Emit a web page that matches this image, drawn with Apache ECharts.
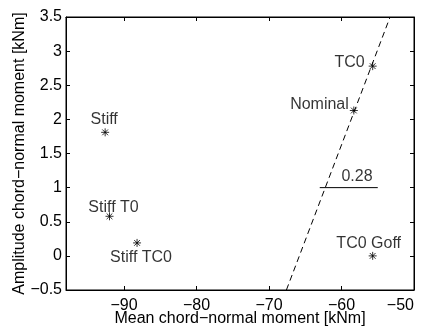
<!DOCTYPE html>
<html>
<head>
<meta charset="utf-8">
<script src="https://cdn.jsdelivr.net/npm/echarts@6/dist/echarts.min.js"></script>
<style>
    html, body { margin: 0; padding: 0; background: #fff; }
    #chart { width: 422px; height: 327px; }
</style>
</head>
<body>
<div id="chart"></div>
<script>
// data
const caseNames = ['Stiff', 'Stiff T0', 'Stiff TC0', 'TC0', 'Nominal', 'TC0 Goff'];
const meanMoment = [-92.6, -92.0, -88.2, -55.7, -58.3, -55.7];
const amplitudeMoment = [1.81, 0.58, 0.19, 2.78, 2.13, 0.0];

// dashed trend line (slope 0.28) and the slope marker
const trendX = [-67.6, -53.3];
const trendY = [-0.5, 3.5];
const slopeBarX = [-63, -55];
const slopeBarY = [1, 1];
const slopeText = '0.28';

const xTicks = [-90, -80, -70, -60, -50];

// label placement per case: [align, dx, dy]
const labelPlacement = [
    ['center', -1, -13],
    ['center', 4, -9],
    ['center', 4, 15],
    ['right', -8, -4],
    ['right', -5, -6],
    ['center', -4, -12]
];

const FONT = 'Liberation Sans, Arial, Helvetica, sans-serif';
const FS = 16;
const minus = (v) => String(v).replace('-', '\u2212');

const asterisk = 'path://M0,-5L0,5M-5,0L5,0M-3.6,-3.6L3.6,3.6M-3.6,3.6L3.6,-3.6';

const points = caseNames.map((name, i) => ({
    value: [meanMoment[i], amplitudeMoment[i]],
    name: name,
    label: {
        align: labelPlacement[i][0],
        offset: [labelPlacement[i][1], labelPlacement[i][2]]
    }
}));

const tickStyle = {show: true, inside: true, length: 4, lineStyle: {color: '#000', width: 1}};
const lineStyle = {show: true, onZero: false, lineStyle: {color: '#000'}};

const options = {
    animation: false,
    backgroundColor: '#fff',
    textStyle: {fontFamily: FONT},
    grid: {
        left: 66, right: 8, top: 17, bottom: 37,
        outerBoundsMode: 'none',
        containLabel: false,
        show: true, borderColor: '#000', borderWidth: 1, backgroundColor: '#fff'
    },
    xAxis: [{
        type: 'value',
        min: -98,
        max: -50,
        name: 'Mean chord\u2212normal moment [kNm]',
        nameLocation: 'middle',
        nameGap: 21,
        nameMoveOverlap: false,
        nameTextStyle: {color: '#000', fontSize: FS, fontFamily: FONT},
        axisLine: lineStyle,
        axisTick: Object.assign({customValues: xTicks}, tickStyle),
        axisLabel: {
            customValues: xTicks,
            alignMaxLabel: 'right',
            color: '#000', fontSize: FS, fontFamily: FONT, margin: 8,
            formatter: minus
        },
        splitLine: {show: false}
    }, {
        type: 'value',
        position: 'top',
        min: -98,
        max: -50,
        axisLine: lineStyle,
        axisTick: Object.assign({customValues: xTicks}, tickStyle),
        axisLabel: {show: false},
        splitLine: {show: false}
    }],
    yAxis: [{
        type: 'value',
        min: -0.5,
        max: 3.5,
        interval: 0.5,
        name: 'Amplitude chord\u2212normal moment [kNm]',
        nameLocation: 'middle',
        nameGap: 38,
        nameMoveOverlap: false,
        nameTextStyle: {color: '#000', fontSize: FS, fontFamily: FONT},
        axisLine: lineStyle,
        axisTick: tickStyle,
        axisLabel: {color: '#000', fontSize: FS, fontFamily: FONT, margin: 4, formatter: minus},
        splitLine: {show: false}
    }, {
        type: 'value',
        position: 'right',
        min: -0.5,
        max: 3.5,
        interval: 0.5,
        axisLine: lineStyle,
        axisTick: tickStyle,
        axisLabel: {show: false},
        splitLine: {show: false}
    }],
    series: [{
        type: 'line',
        data: trendX.map((x, i) => [x, trendY[i]]),
        symbol: 'none',
        lineStyle: {color: '#000', width: 1, type: [6, 4]},
        silent: true
    }, {
        type: 'line',
        data: slopeBarX.map((x, i) => [x, slopeBarY[i]]),
        symbol: 'none',
        lineStyle: {color: '#000', width: 1},
        silent: true
    }, {
        type: 'scatter',
        data: [{value: [-58, 1], name: slopeText}],
        symbolSize: 0,
        label: {
            show: true, position: 'inside', formatter: '{b}',
            color: '#000', fontSize: FS, fontFamily: FONT, offset: [1, -11]
        }
    }, {
        type: 'scatter',
        data: points,
        symbol: asterisk,
        symbolSize: 8,
        itemStyle: {color: 'none', borderColor: '#000', borderWidth: 1},
        label: {
            show: true, position: 'inside', formatter: '{b}',
            color: '#000', fontSize: FS, fontFamily: FONT, verticalAlign: 'middle'
        },
        z: 5
    }]
};

const myChart = echarts.init(document.getElementById('chart'));
myChart.setOption(options);
</script>
</body>
</html>
